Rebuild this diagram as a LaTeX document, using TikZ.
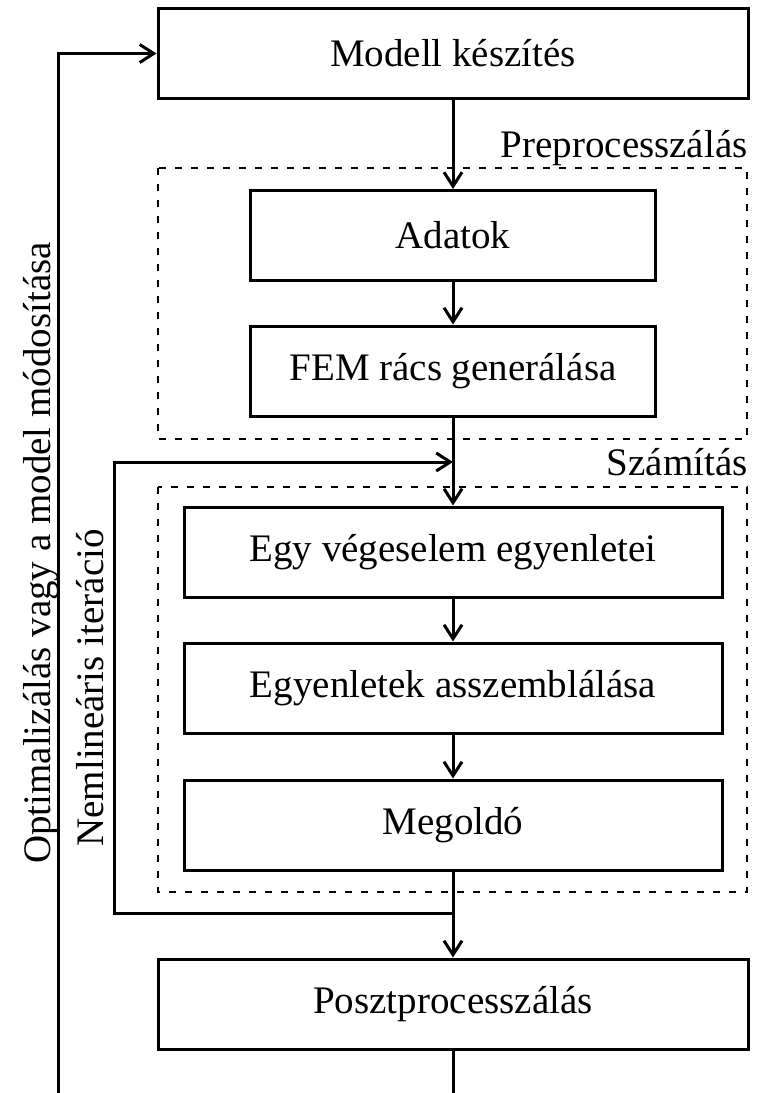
\documentclass[tikz,border=0pt]{standalone}
\usepackage{fontspec}
\setmainfont{Liberation Serif}
\usetikzlibrary{arrows.meta}
\tikzset{
	doboz/.style={draw, line width=1.5pt, minimum width=#1, minimum height=45pt, inner sep=0pt},
	keret/.style={line width=1.2pt, dash pattern=on 3.5pt off 4.5pt},
	cimke/.style={anchor=base east, inner sep=0pt},
	nyil/.style={line width=1.5pt, -{Straight Barb[length=7pt,width=9pt]}},
	vonal/.style={line width=1.5pt}
}
\begin{document}
\begin{tikzpicture}[x=0.5pt, y=-0.5pt, font=\fontsize{19.5}{24}\selectfont]
	\useasboundingbox (0, 0) rectangle (765, 1093);
	\draw[keret](158, 168) rectangle (747, 439);%Preprocesszalas keret
	\draw[keret](158, 487) rectangle (747, 892);%Szamitas keret
	\node[cimke] (prelabel) at (748, 157) {Preprocesszálás};
	\node[cimke] (szamlabel) at (748, 475) {Számítás};

	\node[doboz=295pt] (modell) at (453, 53.5) {Modell készítés};
	\node[doboz=202.5pt] (adatok) at (453, 235.5) {Adatok};
	\node[doboz=202.5pt] (fem) at (453, 371) {FEM rács generálása};
	\node[doboz=269pt] (egy) at (453, 552) {Egy végeselem egyenletei};
	\node[doboz=269pt] (asszembl) at (453, 688) {Egyenletek asszemblálása};
	\node[doboz=269pt] (megoldo) at (453, 825) {Megoldó};
	\node[doboz=295pt] (poszt) at (453, 1004) {Posztprocesszálás};

	\coordinate (nlbe) at (453, 462);%Nemlinearis vissza
	\coordinate (nlki) at (453, 913);
	\coordinate (optalja) at (58, 1093);%Optimalizalas hurok
	\coordinate (posztalja) at (453, 1093);

	\draw[nyil](modell) -- (adatok);
	\draw[nyil](adatok) -- (fem);
	\draw[nyil](fem) -- (egy);
	\draw[nyil](egy) -- (asszembl);
	\draw[nyil](asszembl) -- (megoldo);
	\draw[nyil](megoldo) -- (poszt);
	\draw[nyil](nlki) -- (114, 913) |- (nlbe);
	\draw[vonal](poszt) -- (posztalja);
	\draw[nyil](optalja) |- (modell.west);

	\node[rotate=90, anchor=base] (optlabel) at (50, 553) {Optimalizálás vagy a model módosítása};
	\node[rotate=90, anchor=base] (nllabel) at (103, 688) {Nemlineáris iteráció};
\end{tikzpicture}
\end{document}
